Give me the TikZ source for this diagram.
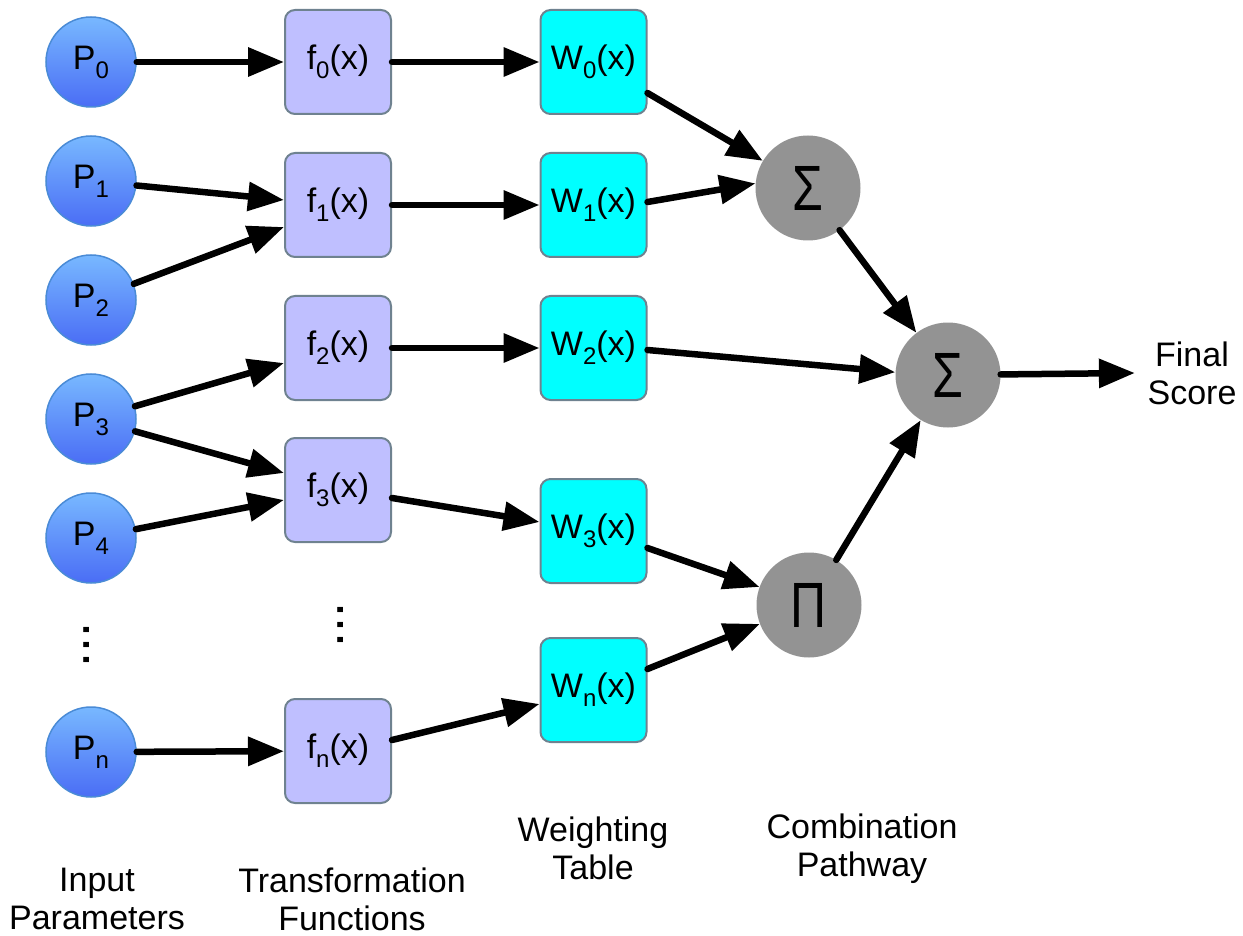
\documentclass[tikz,border=0pt]{standalone}
\usepackage{fontspec}
\setmainfont{Liberation Sans}
\usetikzlibrary{arrows.meta,calc}

\definecolor{pTop}{HTML}{78B8FF}
\definecolor{pBot}{HTML}{4A6DF5}
\definecolor{pEdge}{HTML}{4A8BD6}
\definecolor{fFill}{HTML}{BFBFFF}
\definecolor{boxEdge}{HTML}{6F8290}
\definecolor{wFill}{HTML}{00FFFF}
\definecolor{opFill}{HTML}{939393}

% lowered, smaller index after a letter
\newcommand\sbs[1]{\raisebox{-9pt}{\fontsize{24}{24}\selectfont #1}}
% slightly narrowed operator glyph
\newcommand\opglyph[1]{\scalebox{0.78}[1]{#1}}

\begin{document}
\begin{tikzpicture}[x=1pt,y=-1pt,
  every node/.style={font=\fontsize{34}{38}\selectfont},
  param/.style={circle, minimum size=90pt, inner sep=0pt,
    top color=pTop, bottom color=pBot, draw=pEdge, line width=1.5pt},
  fbox/.style={rounded corners=10pt, minimum width=106pt, minimum height=104pt,
    fill=fFill, draw=boxEdge, line width=2pt, inner sep=0pt},
  wbox/.style={fbox, fill=wFill},
  op/.style={circle, minimum size=105pt, fill=opFill, inner sep=0pt,
    font=\fontsize{64}{64}\selectfont},
  caption/.style={align=center, inner sep=0pt},
  vdots/.style={rotate=90, inner sep=0pt, font=\fontsize{54}{54}\selectfont},
  arr/.style={line width=6.5pt, line cap=round, -{Triangle[length=36pt,width=28pt]}},
]
\useasboundingbox (0,0) rectangle (1243,936);

% input parameters
\node[param] (P0) at (91,62)  {P\sbs{0}};
\node[param] (P1) at (91,181) {P\sbs{1}};
\node[param] (P2) at (91,300) {P\sbs{2}};
\node[param] (P3) at (91,419) {P\sbs{3}};
\node[param] (P4) at (91,538) {P\sbs{4}};
\node[param] (Pn) at (91,752) {P\sbs{n}};
\node[vdots] (Pdots) at (86.5,645) {...};

% transformation functions
\node[fbox] (f0) at (338,62)  {f\sbs{0}(x)};
\node[fbox] (f1) at (338,205) {f\sbs{1}(x)};
\node[fbox] (f2) at (338,348) {f\sbs{2}(x)};
\node[fbox] (f3) at (338,490) {f\sbs{3}(x)};
\node[fbox] (fn) at (338,751) {f\sbs{n}(x)};
\node[vdots] (fdots) at (341,625) {...};

% weighting table
\node[wbox] (W0) at (593.5,62)  {W\sbs{0}(x)};
\node[wbox] (W1) at (593.5,205) {W\sbs{1}(x)};
\node[wbox] (W2) at (593.5,348) {W\sbs{2}(x)};
\node[wbox] (W3) at (593.5,531) {W\sbs{3}(x)};
\node[wbox] (Wn) at (593.5,690) {W\sbs{n}(x)};

% combination pathway
\node[op] (S1) at (808,188) {\opglyph{Σ}};
\node[op] (S2) at (948,375) {\opglyph{Σ}};
\node[op] (Pi) at (809,605) {\opglyph{Π}};
\node[align=center, inner sep=12.5pt] (FS) at (1192,373) {Final\\Score};

% parameters to functions
\draw[arr] (P0) -- (f0);
\draw[arr] (P1) -- ($(f1.west)+(0,-5)$);
\draw[arr] (P2) -- ($(f1.west)+(0,22)$);
\draw[arr] (P3) -- ($(f2.west)+(0,15)$);
\draw[arr] (P3) -- ($(f3.west)+(0,-17)$);
\draw[arr] (P4) -- ($(f3.west)+(0,10)$);
\draw[arr] (Pn) -- (fn);

% functions to weights
\draw[arr] (f0) -- (W0);
\draw[arr] (f1) -- (W1);
\draw[arr] (f2) -- (W2);
\draw[arr] ($(f3.east)+(0,8)$) -- ($(W3.west)+(0,-9)$);
\draw[arr] ($(fn.east)+(0,-11)$) -- ($(Wn.west)+(0,14)$);

% weights to combination
\draw[arr] ($(W0.east)+(0,31)$) -- (S1.149);
\draw[arr] ($(W1.east)+(0,-3)$) -- (S1.175);
\draw[arr] (S1) -- (S2);
\draw[arr] ($(W2.east)+(0,2)$) -- (S2.177);
\draw[arr] ($(W3.east)+(0,17)$) -- (Pi.160);
\draw[arr] ($(Wn.east)+(0,-21)$) -- (Pi.201);
\draw[arr] (Pi) -- (S2);
\draw[arr] (S2) -- (FS.west);

% column captions
\node[caption] (capIn) at (97,899)  {Input\\Parameters};
\node[caption] (capTr) at (352,899) {Transformation\\Functions};
\node[caption] (capWt) at (593,848) {Weighting\\Table};
\node[caption] (capCb) at (862,849) {Combination\\Pathway};
\end{tikzpicture}
\end{document}
